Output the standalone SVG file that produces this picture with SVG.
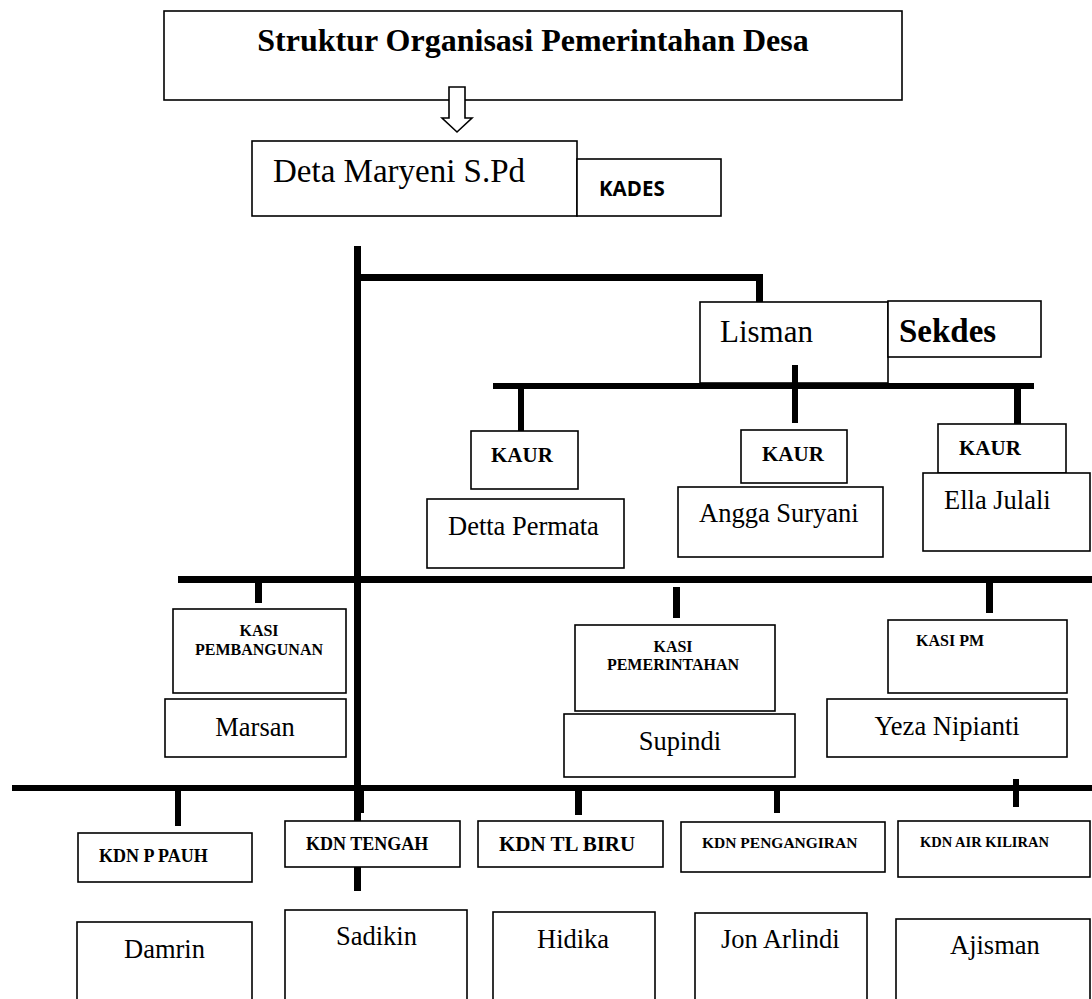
<svg xmlns="http://www.w3.org/2000/svg" width="1092" height="999" viewBox="0 0 1092 999">
<style>
.box{fill:#fff;stroke:#000;stroke-width:1.6}
.bar{fill:#000}
.s{font-family:"Liberation Serif","Times New Roman",serif;fill:#000}
.b{font-weight:bold}
.name{font-size:26.5px}
.kaur{font-size:21px;font-weight:bold}
.kasi{font-size:16px;font-weight:bold}
.kdn{font-size:18px;font-weight:bold}
</style>
<rect width="1092" height="999" fill="#fff"/>
<g id="title">
<rect class="box" x="164" y="11" width="738" height="89"/>
<text class="s b" x="533" y="51" font-size="32" text-anchor="middle">Struktur Organisasi Pemerintahan Desa</text>
</g>
<g id="arrow">
<path d="M449 87 H465 V118 H472 L457 132 L442 118 H449 Z" fill="#fff" stroke="#000" stroke-width="1.6"/>
</g>
<g id="kades">
<rect class="box" x="252" y="141" width="325" height="75"/>
<text class="s" x="273" y="182" font-size="33">Deta Maryeni S.Pd</text>
<rect class="box" x="577" y="159" width="144" height="57"/>
<text x="599" y="196" font-family="'Open Sans','Liberation Sans',sans-serif" font-weight="bold" font-size="20.5">KADES</text>
</g>
<g id="connectors">
<rect class="bar" x="354" y="246" width="7" height="575"/>
<rect class="bar" x="354" y="867" width="7" height="24"/>
<rect class="bar" x="358" y="791" width="6" height="22"/>
<rect class="bar" x="354" y="274" width="409" height="7"/>
<rect class="bar" x="756" y="274" width="7" height="28"/>
<rect class="bar" x="493" y="383" width="541" height="6"/>
<rect class="bar" x="518" y="383" width="6" height="48"/>
<rect class="bar" x="1014" y="383" width="7" height="41"/>
<rect class="bar" x="178" y="576" width="914" height="7"/>
<rect class="bar" x="255" y="582" width="7" height="21"/>
<rect class="bar" x="673" y="587" width="7" height="31"/>
<rect class="bar" x="986" y="582" width="7" height="31"/>
<rect class="bar" x="12" y="785" width="1080" height="6"/>
<rect class="bar" x="175" y="791" width="6" height="35"/>
<rect class="bar" x="575" y="791" width="7" height="24"/>
<rect class="bar" x="774" y="791" width="6" height="22"/>
<rect class="bar" x="1013" y="779" width="6" height="28"/>
</g>
<g id="sekdes">
<rect class="box" x="700" y="302" width="188" height="81"/>
<text class="s" x="720" y="342" font-size="31">Lisman</text>
<rect class="box" x="888" y="301" width="153" height="56"/>
<text class="s b" x="899" y="342" font-size="33">Sekdes</text>
</g>
<rect class="bar" x="792" y="365" width="6" height="58"/>
<g id="kaur1">
<rect class="box" x="471" y="431" width="107" height="58"/>
<text class="s kaur" x="491" y="462">KAUR</text>
<rect class="box" x="427" y="499" width="197" height="69"/>
<text class="s name" x="448" y="535">Detta Permata</text>
</g>
<g id="kaur2">
<rect class="box" x="741" y="430" width="106" height="53"/>
<text class="s kaur" x="762" y="461">KAUR</text>
<rect class="box" x="678" y="487" width="205" height="70"/>
<text class="s name" x="699" y="522">Angga Suryani</text>
</g>
<g id="kaur3">
<rect class="box" x="938" y="424" width="128" height="49"/>
<text class="s kaur" x="959" y="455">KAUR</text>
<rect class="box" x="923" y="473" width="167" height="78"/>
<text class="s name" x="944" y="509">Ella Julali</text>
</g>
<g id="kasi-pembangunan">
<rect class="box" x="173" y="609" width="173" height="84"/>
<text class="s kasi" x="259" y="636" text-anchor="middle">KASI</text>
<text class="s kasi" x="259" y="655" text-anchor="middle">PEMBANGUNAN</text>
<rect class="box" x="165" y="699" width="181" height="58"/>
<text class="s name" x="255" y="736" text-anchor="middle">Marsan</text>
</g>
<g id="kasi-pemerintahan">
<rect class="box" x="575" y="625" width="200" height="86"/>
<text class="s kasi" x="673" y="652" text-anchor="middle">KASI</text>
<text class="s kasi" x="673" y="670" text-anchor="middle">PEMERINTAHAN</text>
<rect class="box" x="564" y="714" width="231" height="63"/>
<text class="s name" x="680" y="750" text-anchor="middle">Supindi</text>
</g>
<g id="kasi-pm">
<rect class="box" x="888" y="620" width="179" height="73"/>
<text class="s kasi" x="950" y="646" text-anchor="middle">KASI PM</text>
<rect class="box" x="827" y="699" width="240" height="58"/>
<text class="s name" x="947" y="735" text-anchor="middle">Yeza Nipianti</text>
</g>
<g id="kdn-p-pauh">
<rect class="box" x="78" y="833" width="174" height="49"/>
<text class="s kdn" x="99" y="862">KDN P PAUH</text>
<rect class="box" x="77" y="922" width="175" height="90"/>
<text class="s name" x="124" y="958">Damrin</text>
</g>
<g id="kdn-tengah">
<rect class="box" x="285" y="821" width="175" height="46"/>
<text class="s kdn" x="306" y="850">KDN TENGAH</text>
<rect class="box" x="285" y="910" width="182" height="100"/>
<text class="s name" x="336" y="945">Sadikin</text>
</g>
<g id="kdn-tl-biru">
<rect class="box" x="478" y="821" width="185" height="46"/>
<text class="s b" x="499" y="851" font-size="21">KDN TL BIRU</text>
<rect class="box" x="493" y="912" width="162" height="100"/>
<text class="s name" x="537" y="948">Hidika</text>
</g>
<g id="kdn-pengangiran">
<rect class="box" x="681" y="822" width="204" height="50"/>
<text class="s b" x="702" y="848" font-size="15.5">KDN PENGANGIRAN</text>
<rect class="box" x="695" y="913" width="172" height="100"/>
<text class="s name" x="721" y="948">Jon Arlindi</text>
</g>
<g id="kdn-air-kiliran">
<rect class="box" x="898" y="821" width="192" height="56"/>
<text class="s b" x="920" y="847" font-size="14.5">KDN AIR KILIRAN</text>
<rect class="box" x="896" y="919" width="194" height="100"/>
<text class="s name" x="950" y="954">Ajisman</text>
</g>
</svg>
